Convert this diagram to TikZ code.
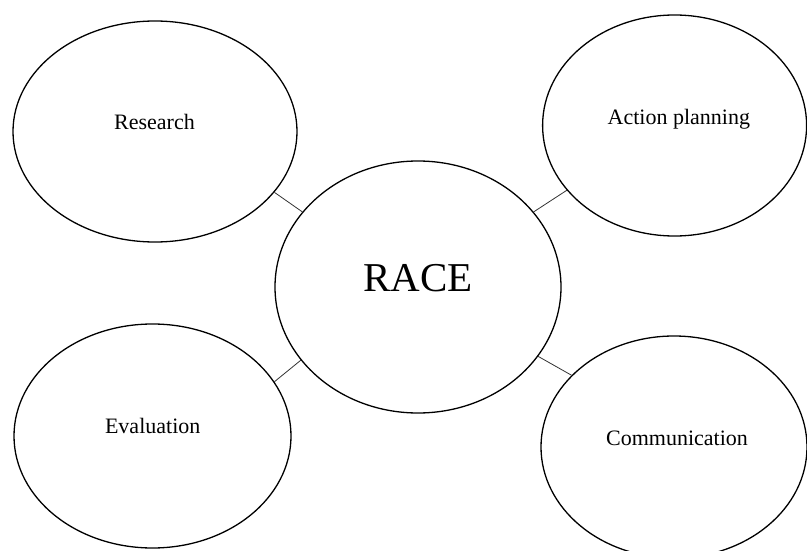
\documentclass[tikz,border=0pt]{standalone}
\usepackage{fontspec}
\setmainfont{Liberation Serif}
\usetikzlibrary{shapes.geometric}
\begin{document}
\begin{tikzpicture}[x=1pt,y=-1pt,
  bubble/.style={draw=black,line width=1.3pt,ellipse,inner sep=0pt,fill=white},
  link/.style={draw=black!80,line width=0.8pt},
  caption/.style={anchor=base,inner sep=0pt,font=\fontsize{22}{26}\selectfont},
  bigcaption/.style={anchor=base,inner sep=0pt,font=\fontsize{41}{48}\selectfont}]
  \useasboundingbox (0,0) rectangle (807,551);
  \clip (0,0) rectangle (807,551);
  % the four phases around the central circle
  \node[bubble,minimum width=284pt,minimum height=221pt] (research) at (155,131.5) {};
  \node[bubble,minimum width=264pt,minimum height=221pt] (action) at (674.6,125.5) {};
  \node[bubble,minimum width=286pt,minimum height=252pt] (race) at (418,287) {};
  \node[bubble,minimum width=277pt,minimum height=224pt] (evaluation) at (152.5,436) {};
  \node[bubble,minimum width=266pt,minimum height=222pt] (communication) at (674,447) {};
  % short links to the centre
  \draw[link] (research.-27) -- (race.147);
  \draw[link] (action.211.6) -- (race.33.3);
  \draw[link] (evaluation.24.6) -- (race.212.9);
  \draw[link] (communication.145.5) -- (race.-30.6);
  % labels
  \node[caption] (research-label) at (154.5,129.3) {Research};
  \node[caption] (action-label) at (678.8,124.3) {Action planning};
  \node[bigcaption] (race-label) at (418,291.7) {RACE};
  \node[caption] (evaluation-label) at (152.7,433.3) {Evaluation};
  \node[caption] (communication-label) at (677,445.7) {Communication};
\end{tikzpicture}
\end{document}
